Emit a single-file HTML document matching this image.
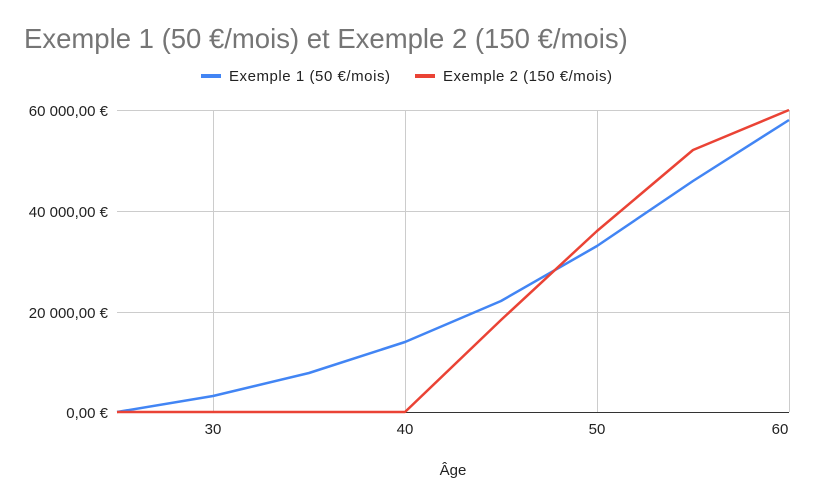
<!DOCTYPE html>
<html><head><meta charset="utf-8"><style>
body{margin:0;background:#fff;}
svg{display:block;font-family:"Liberation Sans",Arial,sans-serif;}
</style></head><body>
<svg width="815" height="504" xmlns="http://www.w3.org/2000/svg">
<rect width="815" height="504" fill="#fff"/>
<text x="24" y="48" font-size="27.5" fill="#757575">Exemple 1 (50 €/mois) et Exemple 2 (150 €/mois)</text>
<line x1="201" y1="76" x2="221" y2="76" stroke="#4285f4" stroke-width="4"/>
<text x="229" y="81" font-size="15" fill="#222" textLength="161" lengthAdjust="spacing">Exemple 1 (50 €/mois)</text>
<line x1="415" y1="76" x2="435" y2="76" stroke="#ea4335" stroke-width="4"/>
<text x="443" y="81" font-size="15" fill="#222" textLength="169" lengthAdjust="spacing">Exemple 2 (150 €/mois)</text>
<g stroke="#ccc" stroke-width="1">
<line x1="117" y1="110.5" x2="789" y2="110.5"/>
<line x1="117" y1="211.5" x2="789" y2="211.5"/>
<line x1="117" y1="312.5" x2="789" y2="312.5"/>
<line x1="213.5" y1="110" x2="213.5" y2="412"/>
<line x1="405.5" y1="110" x2="405.5" y2="412"/>
<line x1="597.5" y1="110" x2="597.5" y2="412"/>
<line x1="789.5" y1="110" x2="789.5" y2="412"/>
</g>
<line x1="117" y1="412.5" x2="789" y2="412.5" stroke="#333" stroke-width="1"/>
<g font-size="15" fill="#222" text-anchor="end">
<text x="108" y="116">60 000,00 €</text>
<text x="108" y="217">40 000,00 €</text>
<text x="108" y="318">20 000,00 €</text>
<text x="108" y="418">0,00 €</text>
</g>
<g font-size="15" fill="#222" text-anchor="middle">
<text x="213" y="434">30</text>
<text x="405" y="434">40</text>
<text x="597" y="434">50</text>
<text x="780" y="434">60</text>
<text x="453" y="475">Âge</text>
</g>
<polyline fill="none" stroke="#4285f4" stroke-width="2.5" stroke-linejoin="round" points="117,412 213,396 309,373 405,342 501,301 597,246 693,181 789,120"/>
<polyline fill="none" stroke="#ea4335" stroke-width="2.5" stroke-linejoin="round" points="117,412 213,412 309,412 405,412 501,320 597,231 693,150 789,110"/>
</svg>
</body></html>
